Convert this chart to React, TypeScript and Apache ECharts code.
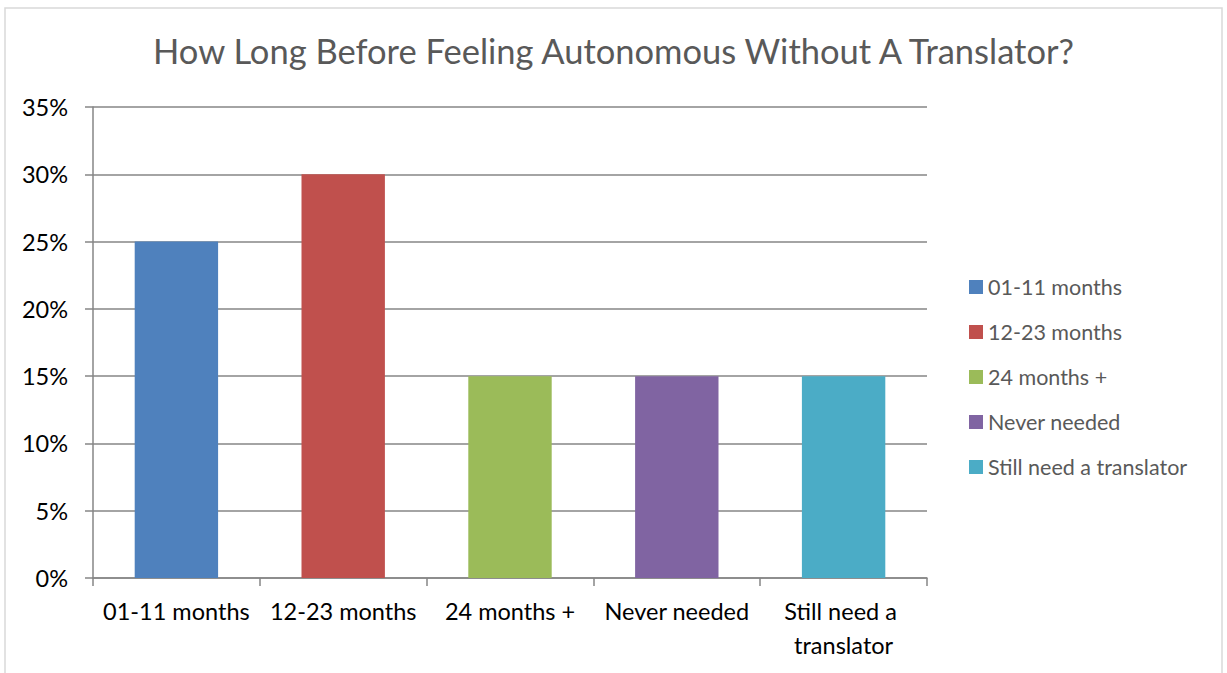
import React, { useEffect, useRef } from "react";
import * as echarts from "echarts";

const categories = ["01-11 months", "12-23 months", "24 months +", "Never needed", "Still need a translator"];
const values = [0.25, 0.3, 0.15, 0.15, 0.15];
const colors = ["#4F81BD", "#C0504D", "#9BBB59", "#8064A2", "#4BACC6"];
const yTicks = { min: 0, max: 0.35, interval: 0.05 };
const title = "How Long Before Feeling Autonomous Without A Translator?";

const FONT = "Lato, 'Open Sans', sans-serif";

export default function App() {
  const ref = useRef<HTMLDivElement>(null);
  useEffect(() => {
    if (!ref.current) return;
    const chart = echarts.init(ref.current, undefined, { renderer: "svg" });
    const series = categories.map((name, i) => ({
      name,
      type: "bar",
      stack: "all",
      barWidth: "50%",
      itemStyle: { color: colors[i] },
      data: categories.map((_, j) => (j === i ? values[i] : null)),
    }));
    chart.setOption({
      animation: false,
      textStyle: { fontFamily: FONT },
      title: {
        text: title,
        left: "center",
        top: 28,
        textStyle: { fontFamily: FONT, fontSize: 34.5, fontWeight: "normal", color: "#595959" },
      },
      graphic: [
        {
          type: "rect",
          shape: { x: 5, y: 8, width: 1217, height: 700 },
          style: { fill: "none", stroke: "#D9D9D9", lineWidth: 1.5 },
          silent: true,
        },
      ],
      legend: {
        orient: "vertical",
        left: 964,
        top: 271,
        itemWidth: 14,
        itemHeight: 14,
        itemGap: 23,
        icon: "rect",
        data: categories,
        textStyle: { fontFamily: FONT, fontSize: 21.5, color: "#595959", lineHeight: 22 },
      },
      grid: { left: 93, top: 107, right: 300, bottom: 95, containLabel: false },
      xAxis: {
        type: "category",
        data: categories,
        axisLine: { lineStyle: { color: "#868686", width: 1.5 } },
        axisTick: { show: true, length: 8, lineStyle: { color: "#868686", width: 1.5 } },
        axisLabel: {
          interval: 0,
          margin: 16,
          color: "#000",
          fontFamily: FONT,
          fontSize: 23.5,
          lineHeight: 34,
          width: 164,
          overflow: "break",
        },
      },
      yAxis: {
        type: "value",
        min: yTicks.min,
        max: yTicks.max,
        interval: yTicks.interval,
        axisLine: { show: true, lineStyle: { color: "#868686", width: 1.5 } },
        axisTick: { show: true, length: 8, lineStyle: { color: "#868686", width: 1.5 } },
        splitLine: { lineStyle: { color: "#868686", width: 1.5 } },
        axisLabel: {
          margin: 25,
          color: "#000",
          fontFamily: FONT,
          fontSize: 23.5,
          formatter: (v: number) => `${Math.round(v * 100)}%`,
        },
      },
      series,
    });
    return () => chart.dispose();
  }, []);
  return <div ref={ref} style={{ position: "fixed", left: 0, top: 0, width: 1227, height: 673, background: "#fff" }} />;
}
